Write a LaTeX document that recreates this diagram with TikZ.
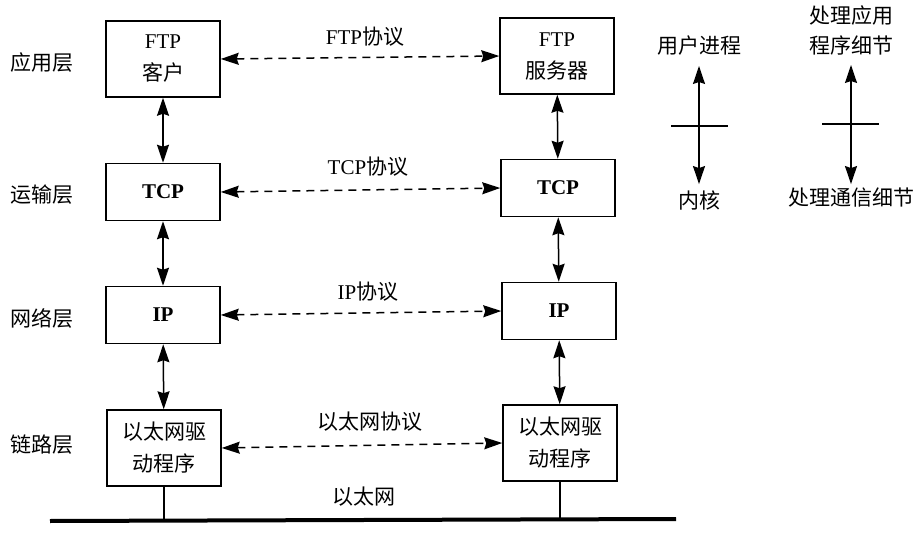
\documentclass[tikz,border=0pt]{standalone}
\usepackage{fontspec}
\setmainfont{Liberation Serif}
\newfontfamily\cjk{Noto Sans CJK SC}
\newcommand{\zh}[1]{{\cjk #1}}
\usetikzlibrary{arrows.meta, positioning}

\begin{document}
\begin{tikzpicture}[x=1pt, y=-1pt, font=\fontsize{21}{32}\selectfont, >={Stealth[length=18pt,width=12pt,inset=2pt]}]
		\tikzstyle{LayerBox} = [rectangle, minimum width=114pt, minimum height=57pt, text centered, align=center, draw=black, line width=1.5pt, fill=white]
		\tikzstyle{LayerName} = [inner sep=0pt, text centered]
		\tikzstyle{ProtoName} = [inner sep=0pt, text centered, align=center]
		\tikzstyle{arrowLine} = [line width=1.5pt, <->]
		\tikzstyle{dashArrow} = [arrowLine, dash pattern=on 8pt off 6pt]
		
		\useasboundingbox (0,0) rectangle (914,535);
		
		% layer names
		\node (layerApp) [LayerName] at (42,63) {\zh{应用层}};
		\node (layerTrans) [LayerName] at (42,195) {\zh{运输层}};
		\node (layerNet) [LayerName] at (42,318) {\zh{网络层}};
		\node (layerLink) [LayerName] at (42,445) {\zh{链路层}};
		
		% client side
		\node (ftpClient) [LayerBox, minimum height=76pt] at (163,59) {FTP\\\zh{客户}};
		\node (tcpClient) [LayerBox] at (163,192) {\textbf{TCP}};
		\node (ipClient) [LayerBox] at (163,315) {\textbf{IP}};
		\node (ethClient) [LayerBox, minimum height=76pt] at (164,448) {\zh{以太网驱}\\\zh{动程序}};
		
		% server side
		\node (ftpServer) [LayerBox, minimum height=76pt] at (557,56) {FTP\\\zh{服务器}};
		\node (tcpServer) [LayerBox] at (558,188) {\textbf{TCP}};
		\node (ipServer) [LayerBox] at (559,311) {\textbf{IP}};
		\node (ethServer) [LayerBox, minimum height=76pt] at (560,443) {\zh{以太网驱}\\\zh{动程序}};
		
		% protocols
		\node (ftpProto) [ProtoName] at (365,37) {FTP\zh{协议}};
		\node (tcpProto) [ProtoName] at (368,167) {TCP\zh{协议}};
		\node (ipProto) [ProtoName] at (368,292) {IP\zh{协议}};
		\node (ethProto) [ProtoName] at (370,422) {\zh{以太网协议}};
		\node (ethName) [ProtoName] at (364,497) {\zh{以太网}};
		
		\draw[dashArrow] (ftpClient.east) -- (ftpServer.west);
		\draw[dashArrow] (tcpClient.east) -- (tcpServer.west);
		\draw[dashArrow] (ipClient.east) -- (ipServer.west);
		\draw[dashArrow] (ethClient.east) -- (ethServer.west);
		
		\draw[arrowLine] (ftpClient) -- (tcpClient);
		\draw[arrowLine] (tcpClient) -- (ipClient);
		\draw[arrowLine] (ipClient) -- (ethClient);
		\draw[arrowLine] (ftpServer) -- (tcpServer);
		\draw[arrowLine] (tcpServer) -- (ipServer);
		\draw[arrowLine] (ipServer) -- (ethServer);
		
		% ethernet cable
		\coordinate (etherL) at (50,521);
		\coordinate (etherR) at (676,519);
		\draw[line width=4pt] (etherL) -- (etherR);
		\draw[line width=1.5pt] (ethClient.south) -- (ethClient.south |- etherL);
		\draw[line width=1.5pt] (ethServer.south) -- (ethServer.south |- etherR);
		
		% user process / kernel
		\node (userProc) [LayerName] at (699,46) {\zh{用户进程}};
		\node (kernel) [LayerName] at (699,200) {\zh{内核}};
		\draw[arrowLine, shorten <=10pt, shorten >=6pt] (userProc) -- (kernel);
		\draw[line width=1.5pt] (671,126) -- (728,126);
		
		% application / communication details
		\node (appDetail) [ProtoName, font=\fontsize{21}{30}\selectfont] at (851,30) {\zh{处理应用}\\\zh{程序细节}};
		\node (commDetail) [LayerName] at (851,198) {\zh{处理通信细节}};
		\draw[arrowLine, shorten <=10pt, shorten >=4pt] (appDetail) -- (commDetail);
		\draw[line width=1.5pt] (822,124) -- (879,124);
\end{tikzpicture}
\end{document}
